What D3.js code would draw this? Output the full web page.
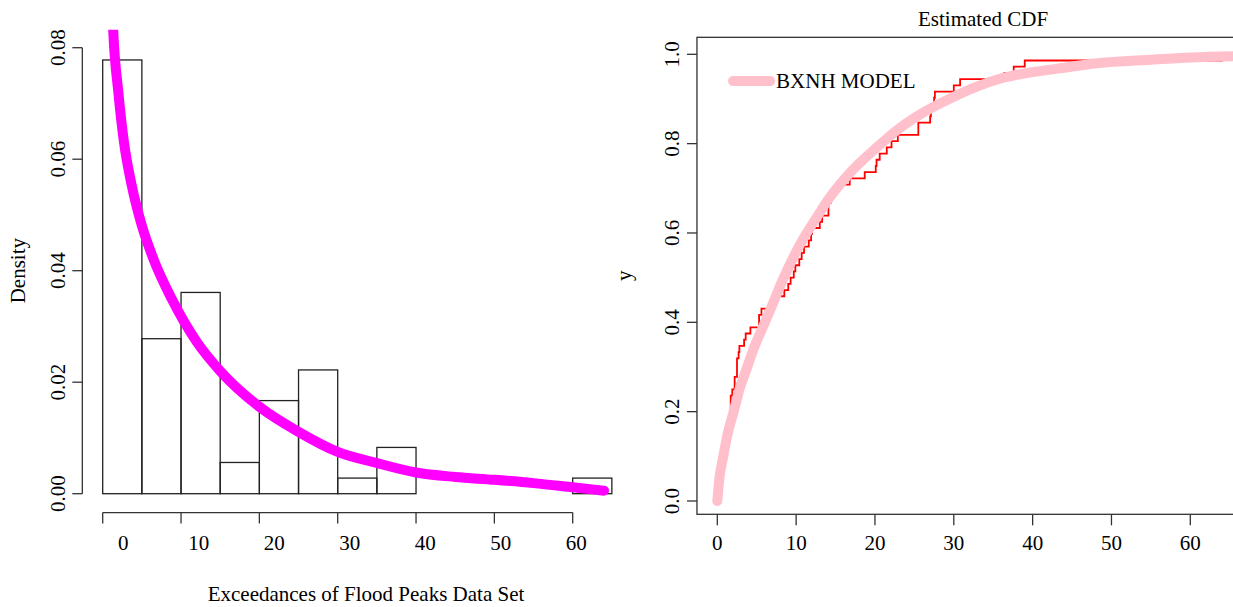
<!DOCTYPE html>
<html>
<head>
<meta charset="utf-8">
<script src="https://cdn.jsdelivr.net/npm/d3@7"></script>
<style>
  html, body { margin: 0; padding: 0; background: #fff; }
  svg { display: block; }
  text { font-family: "Liberation Serif", "Times New Roman", serif; fill: #000; }
</style>
</head>
<body>
<svg id="chart" width="1233" height="607"></svg>
<script>
// ---------- data ----------
// Histogram (left panel): bin edges of width 5, densities
const histBinStarts = [0, 5, 10, 15, 20, 25, 30, 35, 40, 45, 50, 55, 60];
const histBinWidth = 5;
const histDensity = [0.0778, 0.0278, 0.0361, 0.0056, 0.0167, 0.0222, 0.0028, 0.0083, 0, 0, 0, 0, 0.0028];

// Fitted BXNH density curve (magenta)
const pdfX = [1.2, 1.35, 1.99, 2.71, 3.69, 4.97, 6.45, 8.79, 11.97, 15, 20, 25, 30, 35, 40, 45, 50, 55, 60, 64];
const pdfY = [0.088, 0.0829, 0.0721, 0.0631, 0.0554, 0.0482, 0.0422, 0.0350, 0.0273, 0.0220, 0.0156, 0.0111, 0.0075, 0.0055, 0.0038, 0.0030, 0.0025, 0.0019, 0.00115, 0.00054];

// Exceedances of flood peaks sample (sorted) for the empirical CDF (red steps)
const sample = [0.1, 0.3, 0.4, 0.4, 0.6, 0.6, 0.7, 1.0, 1.1, 1.1, 1.1, 1.4, 1.5, 1.7, 1.7, 1.7, 1.7, 1.9,
  2.2, 2.2, 2.5, 2.5, 2.5, 2.7, 2.8, 3.4, 3.6, 4.2, 5.3, 5.3, 5.6, 7.0, 7.3, 8.5, 9.0, 9.3, 9.7, 9.9,
  10.4, 10.7, 11.0, 11.6, 11.9, 12.0, 13.0, 13.3, 14.1, 14.1, 14.4, 14.4, 15.0, 16.8, 18.7, 20.1, 20.2,
  20.6, 21.5, 22.1, 22.9, 25.5, 25.5, 27.0, 27.1, 27.4, 27.5, 27.6, 30.0, 30.8, 36.4, 37.6, 39.0, 64.0];

// Fitted BXNH CDF curve (pink)
const cdfX = [0, 0.25, 0.76, 1.3, 2.0, 2.9, 3.7, 4.7, 5.8, 7.0, 8.3, 10.8, 12.5, 14.2, 17, 20, 23, 25.5, 30, 33, 36.4, 40, 43.2, 48.2, 55, 60, 66, 70];
const cdfY = [0, 0.048, 0.10, 0.15, 0.195, 0.255, 0.295, 0.345, 0.39, 0.44, 0.495, 0.584, 0.632, 0.678, 0.738, 0.788, 0.833, 0.863, 0.905, 0.928, 0.948, 0.96, 0.968, 0.98, 0.988, 0.993, 0.996, 0.997];

// Tick values / labels
const leftXTicks = [0, 10, 20, 30, 40, 50, 60];
const leftYTicks = [0, 0.02, 0.04, 0.06, 0.08];
const rightXTicks = [0, 10, 20, 30, 40, 50, 60];
const rightYTicks = [0, 0.2, 0.4, 0.6, 0.8, 1.0];

const leftXTitle = "Exceedances of Flood Peaks Data Set";
const leftYTitle = "Density";
const rightTitle = "Estimated CDF";
const rightYTitle = "y";
const legendLabel = "BXNH MODEL";

// ---------- layout ----------
const svg = d3.select("#chart");
const FS = 21;
const axisColor = "#333";

// Left panel scales
const xL = d3.scaleLinear().domain([0, 60]).range([102.7, 572.7]);
const yL = d3.scaleLinear().domain([0, 0.08]).range([493.7, 47.7]);
// tick-label positions in the reference sit on a slightly different spacing
const xLabL = d3.scaleLinear().domain([0, 60]).range([123.3, 576.3]);
const leftRegion = { x0: xL(-2.6), x1: xL(67.6), y0: yL(0.0832), y1: yL(-0.0032) };

// Right panel scales (plot region continues past the right edge of the picture)
const xR = d3.scaleLinear().domain([0, 60]).range([717.3, 1190.3]);
const yR = d3.scaleLinear().domain([0, 1]).range([501, 54.3]);
const rightRegion = { x0: xR(-2.58), x1: xR(70), y0: yR(1.038), y1: yR(-0.0298) };

const defs = svg.append("defs");
defs.append("clipPath").attr("id", "clipL").append("rect")
  .attr("x", leftRegion.x0).attr("y", leftRegion.y0)
  .attr("width", leftRegion.x1 - leftRegion.x0).attr("height", leftRegion.y1 - leftRegion.y0);
defs.append("clipPath").attr("id", "clipR").append("rect")
  .attr("x", rightRegion.x0).attr("y", rightRegion.y0)
  .attr("width", rightRegion.x1 - rightRegion.x0).attr("height", rightRegion.y1 - rightRegion.y0);

// ---------- LEFT PANEL ----------
const gL = svg.append("g");

// histogram bars
gL.append("g").selectAll("rect")
  .data(histBinStarts.map((s, i) => ({ x0: s, x1: s + histBinWidth, d: histDensity[i] })))
  .join("rect")
  .attr("x", d => xL(d.x0))
  .attr("y", d => yL(d.d))
  .attr("width", d => xL(d.x1) - xL(d.x0))
  .attr("height", d => yL(0) - yL(d.d))
  .attr("fill", "none")
  .attr("stroke", "#222")
  .attr("stroke-width", 1.3);

// density curve
const pdfPts = pdfX.map((x, i) => [x, pdfY[i]]);
gL.append("path")
  .attr("clip-path", "url(#clipL)")
  .attr("d", d3.line().x(d => xL(d[0])).y(d => yL(d[1])).curve(d3.curveMonotoneX)(pdfPts))
  .attr("fill", "none")
  .attr("stroke", "#FF00FF")
  .attr("stroke-width", 10)
  .attr("stroke-linecap", "round")
  .attr("stroke-linejoin", "round");

// y axis
const yAxL = gL.append("g");
yAxL.append("line")
  .attr("x1", leftRegion.x0).attr("x2", leftRegion.x0)
  .attr("y1", yL(leftYTicks[0])).attr("y2", yL(leftYTicks[leftYTicks.length - 1]))
  .attr("stroke", axisColor).attr("stroke-width", 1.3);
yAxL.selectAll("line.tick").data(leftYTicks).join("line").attr("class", "tick")
  .attr("x1", leftRegion.x0).attr("x2", leftRegion.x0 - 10)
  .attr("y1", d => yL(d)).attr("y2", d => yL(d))
  .attr("stroke", axisColor).attr("stroke-width", 1.3);
yAxL.selectAll("text").data(leftYTicks).join("text")
  .attr("transform", d => `translate(${leftRegion.x0 - 17},${yL(d)}) rotate(-90)`)
  .attr("text-anchor", "middle")
  .attr("font-size", FS)
  .text(d => d3.format(".2f")(d));

// x axis
const xAxL = gL.append("g");
const xAxLy = leftRegion.y1 + 1;
xAxL.append("line")
  .attr("x1", xL(leftXTicks[0])).attr("x2", xL(leftXTicks[leftXTicks.length - 1]))
  .attr("y1", xAxLy).attr("y2", xAxLy)
  .attr("stroke", axisColor).attr("stroke-width", 1.3);
xAxL.selectAll("line.tick").data(leftXTicks).join("line").attr("class", "tick")
  .attr("x1", d => xL(d)).attr("x2", d => xL(d))
  .attr("y1", xAxLy).attr("y2", xAxLy + 11)
  .attr("stroke", axisColor).attr("stroke-width", 1.3);
xAxL.selectAll("text").data(leftXTicks).join("text")
  .attr("x", d => xLabL(d))
  .attr("y", 550)
  .attr("text-anchor", "middle")
  .attr("font-size", FS)
  .text(d => d);

// axis titles
gL.append("text")
  .attr("x", 366).attr("y", 601)
  .attr("text-anchor", "middle").attr("font-size", FS)
  .text(leftXTitle);
gL.append("text")
  .attr("transform", `translate(25,${(leftRegion.y0 + leftRegion.y1) / 2}) rotate(-90)`)
  .attr("text-anchor", "middle").attr("font-size", FS)
  .text(leftYTitle);

// ---------- RIGHT PANEL ----------
const gR = svg.append("g");

// ECDF steps (drawn under the model curve)
const n = sample.length;
const ecdfPts = sample.map((x, i) => [x, (i + 1) / n]);
gR.append("path")
  .attr("clip-path", "url(#clipR)")
  .attr("d", d3.line().x(d => xR(d[0])).y(d => yR(d[1])).curve(d3.curveStepAfter)(ecdfPts))
  .attr("fill", "none")
  .attr("stroke", "#FF0000")
  .attr("stroke-width", 1.8);

// model CDF
const cdfPts = cdfX.map((x, i) => [x, cdfY[i]]);
gR.append("path")
  .attr("clip-path", "url(#clipR)")
  .attr("d", d3.line().x(d => xR(d[0])).y(d => yR(d[1])).curve(d3.curveMonotoneX)(cdfPts))
  .attr("fill", "none")
  .attr("stroke", "#FFC0CB")
  .attr("stroke-width", 10)
  .attr("stroke-linecap", "round")
  .attr("stroke-linejoin", "round");

// frame
gR.append("rect")
  .attr("x", rightRegion.x0).attr("y", rightRegion.y0)
  .attr("width", rightRegion.x1 - rightRegion.x0).attr("height", rightRegion.y1 - rightRegion.y0)
  .attr("fill", "none").attr("stroke", axisColor).attr("stroke-width", 1.3);

// y axis ticks
gR.append("g").selectAll("line").data(rightYTicks).join("line")
  .attr("x1", rightRegion.x0).attr("x2", rightRegion.x0 - 10)
  .attr("y1", d => yR(d)).attr("y2", d => yR(d))
  .attr("stroke", axisColor).attr("stroke-width", 1.3);
gR.append("g").selectAll("text").data(rightYTicks).join("text")
  .attr("transform", d => `translate(${rightRegion.x0 - 18},${yR(d)}) rotate(-90)`)
  .attr("text-anchor", "middle")
  .attr("font-size", FS)
  .text(d => d3.format(".1f")(d));

// x axis ticks
gR.append("g").selectAll("line").data(rightXTicks).join("line")
  .attr("x1", d => xR(d)).attr("x2", d => xR(d))
  .attr("y1", rightRegion.y1).attr("y2", rightRegion.y1 + 11)
  .attr("stroke", axisColor).attr("stroke-width", 1.3);
gR.append("g").selectAll("text").data(rightXTicks).join("text")
  .attr("x", d => xR(d))
  .attr("y", 550)
  .attr("text-anchor", "middle")
  .attr("font-size", FS)
  .text(d => d);

// title and y label
gR.append("text")
  .attr("x", (rightRegion.x0 + rightRegion.x1) / 2).attr("y", 26)
  .attr("text-anchor", "middle").attr("font-size", FS)
  .text(rightTitle);
gR.append("text")
  .attr("transform", `translate(631,${(rightRegion.y0 + rightRegion.y1) / 2}) rotate(-90)`)
  .attr("text-anchor", "middle").attr("font-size", FS)
  .text(rightYTitle);

// legend
const lg = gR.append("g").attr("transform", `translate(${xR(2)},${yR(0.94)})`);
lg.append("line")
  .attr("x1", 0).attr("x2", 37).attr("y1", 0).attr("y2", 0)
  .attr("stroke", "#FFC0CB").attr("stroke-width", 10).attr("stroke-linecap", "round");
lg.append("text")
  .attr("x", 43).attr("y", 7)
  .attr("font-size", FS)
  .text(legendLabel);
</script>
</body>
</html>
